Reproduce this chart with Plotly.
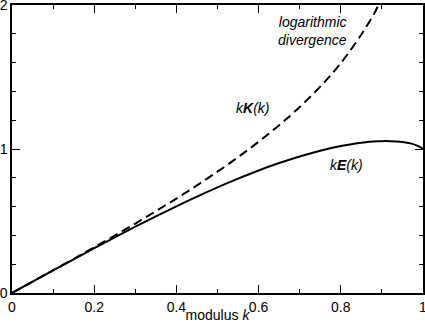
import plotly.graph_objects as go

# modulus k and the two curves
k_vals = [0, 0.05, 0.1, 0.15, 0.2, 0.25, 0.3, 0.35, 0.4, 0.45, 0.5, 0.55, 0.6,
          0.65, 0.7, 0.75, 0.8, 0.85, 0.87, 0.89, 0.9, 0.92, 0.95, 0.97, 0.99, 1.0]
kE_vals = [0, 0.0785, 0.1567, 0.2343, 0.3110, 0.3865, 0.4604, 0.5324, 0.6022,
           0.6696, 0.7338, 0.7943, 0.8509, 0.9023, 0.9483, 0.9885, 1.0210,
           1.0437, 1.0500, 1.0535, 1.0545, 1.0543, 1.0488, 1.0392, 1.0183, 1.0]

kK_k = [0, 0.05, 0.1, 0.15, 0.2, 0.25, 0.3, 0.35, 0.4, 0.45, 0.5, 0.55, 0.6,
        0.65, 0.7, 0.75, 0.8, 0.85, 0.86, 0.87, 0.88, 0.89, 0.9]
kK_vals = [0, 0.0786, 0.1575, 0.2370, 0.3174, 0.3991, 0.4824, 0.5679, 0.6560,
           0.7475, 0.8429, 0.9435, 1.0505, 1.1657, 1.2920, 1.4333, 1.5962,
           1.7950, 1.8400, 1.8860, 1.9330, 1.9900, 2.0525]

x_ticks = [0, 0.2, 0.4, 0.6, 0.8, 1]
x_labels = ["0", "0.2", "0.4", "0.6", "0.8", "1"]
y_ticks = [0, 1, 2]
y_labels = ["0", "1", "2"]

FONT = "Liberation Sans"
FS = 14

fig = go.Figure()
fig.add_trace(go.Scatter(x=kK_k, y=kK_vals, mode="lines",
                         line=dict(color="black", width=2, dash="9px,5px"),
                         line_shape="spline"))
fig.add_trace(go.Scatter(x=k_vals, y=kE_vals, mode="lines",
                         line=dict(color="black", width=2),
                         line_shape="spline"))

axis_common = dict(
    showline=True, linecolor="black", linewidth=1.5, mirror="ticks",
    ticks="inside", ticklen=8, tickwidth=1, tickcolor="black",
    showgrid=False, zeroline=False, automargin=False,
    ticklabeloverflow="allow",
    tickfont=dict(family=FONT, size=FS, color="black"),
)

fig.update_xaxes(range=[0, 1], tickvals=x_ticks, ticktext=x_labels,
                 minor=dict(dtick=0.1, ticks="inside", ticklen=4, tickcolor="black"),
                 title=dict(text="modulus <i>k</i>", standoff=0,
                            font=dict(family=FONT, size=FS, color="black")),
                 **axis_common)
fig.update_yaxes(range=[0, 2], tickvals=y_ticks, ticktext=y_labels,
                 minor=dict(dtick=0.2, ticks="inside", ticklen=4, tickcolor="black"),
                 **axis_common)

ann_font = dict(family=FONT, size=FS, color="black")
fig.add_annotation(x=0.82, y=1.82, xanchor="right", text="<i>logarithmic<br>divergence</i>",
                   showarrow=False, font=ann_font, align="right")
fig.add_annotation(x=0.586, y=1.285, text="<i>k<b>K</b>(k)</i>",
                   showarrow=False, font=ann_font)
fig.add_annotation(x=0.815, y=0.889, text="<i>k<b>E</b>(k)</i>",
                   showarrow=False, font=ann_font)

fig.update_layout(
    width=425, height=323,
    margin=dict(l=12, r=2, t=5, b=30),
    paper_bgcolor="white", plot_bgcolor="white",
    showlegend=False,
    font=dict(family=FONT, size=FS, color="black"),
)

# page body has a default margin; remove it so the figure sits at the corner
fig.write_html("out.html", config={"displayModeBar": False},
               post_script="document.body.style.margin='0';document.body.style.overflow='hidden';")
